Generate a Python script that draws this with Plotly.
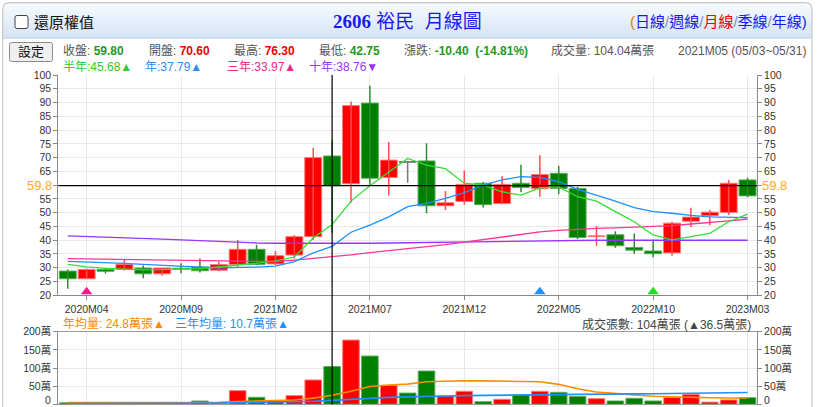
import plotly.graph_objects as go

W, H = 817, 407

# ---------------- data ----------------
months = ["2020M03", "2020M04", "2020M05", "2020M06", "2020M07", "2020M08", "2020M09",
          "2020M10", "2020M11", "2020M12", "2021M01", "2021M02", "2021M03", "2021M04",
          "2021M05", "2021M06", "2021M07", "2021M08", "2021M09", "2021M10", "2021M11",
          "2021M12", "2022M01", "2022M02", "2022M03", "2022M04", "2022M05", "2022M06",
          "2022M07", "2022M08", "2022M09", "2022M10", "2022M11", "2022M12", "2023M01",
          "2023M02", "2023M03"]
opens = [28.8, 26.0, 29.4, 29.4, 29.9, 27.8, 29.8, 30.3, 29.1, 31.2, 36.7, 31.4, 34.6, 41.3,
         70.6, 60.5, 89.8, 62.8, 68.3, 68.8, 52.5, 54.1, 60.7, 53.3, 60.7, 58.7, 64.3, 58.8,
         41.3, 42.0, 37.4, 36.1, 35.4, 46.9, 48.9, 50.1, 61.9]
highs = [29.4, 29.6, 29.9, 33.0, 30.8, 29.9, 31.6, 33.4, 32.2, 40.1, 38.4, 36.1, 41.8, 73.6,
         76.3, 90.4, 96.1, 75.7, 68.6, 75.2, 57.9, 65.3, 61.1, 63.3, 67.4, 70.9, 67.0, 59.4,
         45.2, 43.3, 42.4, 40.3, 46.7, 51.8, 51.0, 61.9, 62.7]
lows = [22.4, 25.9, 27.9, 29.0, 26.2, 27.1, 28.0, 28.3, 28.7, 30.4, 31.0, 31.0, 33.4, 40.1,
        42.75, 53.6, 60.0, 56.2, 60.9, 49.8, 51.0, 53.0, 51.9, 53.2, 57.4, 55.8, 56.7, 40.4,
        38.0, 37.3, 35.1, 33.8, 34.4, 44.7, 45.4, 49.2, 55.6]
closes = [26.0, 29.4, 28.7, 31.2, 27.8, 29.9, 29.5, 28.9, 31.2, 36.7, 31.2, 34.4, 41.3, 70.0,
          59.8, 88.9, 62.5, 69.1, 68.3, 52.5, 53.6, 60.3, 52.9, 60.3, 59.1, 63.9, 58.8, 41.0,
          41.6, 38.0, 36.4, 35.1, 46.2, 48.4, 50.2, 60.7, 56.1]
# volume in 萬張
volume = [4.0, 3.0, 2.5, 5.0, 2.5, 2.5, 3.0, 9.0, 3.0, 37.6, 19.3, 10.0, 23.9, 67.0,
          104.04, 177.0, 133.0, 52.0, 31.0, 91.7, 23.0, 35.8, 7.3, 13.8, 25.7, 35.8, 33.0,
          21.5, 15.6, 9.2, 16.5, 9.2, 18.5, 27.0, 6.0, 12.0, 18.3]

ma_half = [31.2, 30.3, 29.8, 29.5, 29.2, 29.3, 29.6, 29.6, 30.4, 31.0, 31.6, 32.5, 33.9, 40.8,
           45.68, 54.2, 59.8, 64.9, 69.7, 67.3, 66.0, 60.7, 60.0, 57.6, 56.4, 59.0, 59.4, 55.8,
           54.2, 50.4, 46.7, 41.9, 40.1, 41.3, 42.5, 46.7, 49.5]
ma_1y = [32.3, 32.1, 31.9, 31.6, 31.2, 30.8, 30.4, 30.2, 30.0, 30.0, 30.2, 30.6, 32.2, 35.4,
         37.79, 42.9, 45.5, 48.5, 52.2, 53.4, 55.2, 57.3, 60.0, 61.9, 63.1, 62.8, 61.3, 58.5,
         56.4, 54.2, 51.8, 50.4, 49.8, 49.0, 48.5, 48.3, 48.2]
ma_3y = [33.3, 33.2, 33.1, 33.0, 32.9, 32.8, 32.6, 32.5, 32.3, 32.2, 32.1, 32.2, 32.8, 33.4,
         33.97, 34.7, 35.5, 36.2, 36.9, 37.6, 38.4, 39.3, 40.2, 41.1, 42.0, 43.0, 43.6, 44.0,
         44.3, 44.5, 44.7, 44.9, 45.3, 45.9, 46.4, 47.0, 47.7]
ma_10y = [41.6, 41.4, 41.2, 41.0, 40.7, 40.4, 40.1, 39.8, 39.5, 39.2, 39.0, 38.9, 38.85, 38.8,
          38.76, 38.8, 38.9, 39.0, 39.1, 39.2, 39.3, 39.5, 39.6, 39.7, 39.8, 39.9, 40.0, 40.0,
          40.0, 40.0, 40.0, 40.0, 40.0, 40.0, 40.0, 40.0, 40.0]
vol_ma_1y = [4.5, 4.5, 4.5, 4.5, 4.5, 4.6, 4.8, 5.3, 5.6, 7.5, 8.8, 10.0, 12.0, 17.0,
             24.8, 36.0, 49.0, 53.0, 55.5, 62.0, 64.0, 65.0, 64.5, 64.0, 64.5, 62.0, 55.0,
             43.0, 34.0, 29.0, 26.0, 22.0, 20.0, 18.5, 18.0, 17.5, 17.3]
vol_ma_3y = [2.0, 2.0, 2.2, 2.4, 2.6, 2.8, 3.0, 3.3, 3.5, 4.5, 5.0, 5.5, 6.5, 8.5,
             10.7, 14.0, 17.5, 19.0, 20.5, 22.5, 23.0, 24.0, 24.3, 24.6, 25.0, 26.0, 26.6,
             27.0, 27.3, 28.0, 28.6, 29.2, 30.0, 31.0, 31.5, 32.0, 32.5]

tick_months = ["2020M04", "2020M09", "2021M02", "2021M07", "2021M12", "2022M05", "2022M10", "2023M03"]
price_ticks = list(range(20, 101, 5))
vol_ticks = [0, 50, 100, 150, 200]
vol_ticktext = ["0", "50萬", "100萬", "150萬", "200萬"]
signal_months = ["2020M04", "2022M04", "2022M10"]
signal_colors = ["#ff1493", "#1e90ff", "#22dd22"]
cross_month = "2021M05"
cross_price = 59.8

# ---------------- styles ----------------
FONT = "Liberation Sans, Arial, Noto Sans CJK TC, sans-serif"
RED, GREEN, GRAY = "#ff0000", "#008000", "#777777"
C_HALF, C_1Y, C_3Y, C_10Y = "#33dd33", "#1e90ff", "#ff3399", "#9933ff"
C_VOL1, C_VOL3 = "#ff8c00", "#1e90ff"

body_colors = [RED if c > o else (GREEN if c < o else GRAY) for o, c in zip(opens, closes)]
body_lines = {RED: "#ff7a7a", GREEN: "#5fae5f", GRAY: "#777777"}
wick_colors = {RED: "#ff4d4d", GREEN: "#2e8b2e", GRAY: "#777777"}
vol_colors = [RED if c > o else GREEN for o, c in zip(opens, closes)]

fig = go.Figure()

# wicks
for col in (RED, GREEN, GRAY):
    xs, ys = [], []
    for m, hi, lo, bc in zip(months, highs, lows, body_colors):
        if bc == col:
            xs += [m, m, None]
            ys += [lo, hi, None]
    fig.add_trace(go.Scatter(x=xs, y=ys, mode="lines", line=dict(color=wick_colors[col], width=1.5),
                             xaxis="x", yaxis="y", hoverinfo="skip"))

# bodies
fig.add_trace(go.Bar(
    x=months,
    y=[max(abs(c - o), 0.25) for o, c in zip(opens, closes)],
    base=[min(o, c) for o, c in zip(opens, closes)],
    width=0.9,
    marker=dict(color=body_colors, line=dict(color=[body_lines[c] for c in body_colors], width=1)),
    xaxis="x", yaxis="y", hoverinfo="skip"))

# moving averages
for vals, col in ((ma_10y, C_10Y), (ma_3y, C_3Y), (ma_1y, C_1Y), (ma_half, C_HALF)):
    fig.add_trace(go.Scatter(x=months, y=vals, mode="lines", line=dict(color=col, width=1.3),
                             xaxis="x", yaxis="y", hoverinfo="skip"))

# signal markers
fig.add_trace(go.Scatter(x=signal_months, y=[21.3] * len(signal_months), mode="markers",
                         marker=dict(symbol="triangle-up", size=10, color=signal_colors),
                         xaxis="x", yaxis="y", hoverinfo="skip"))

# volume
fig.add_trace(go.Bar(
    x=months, y=volume, width=0.88,
    marker=dict(color=vol_colors, line=dict(color=[body_lines[c] for c in vol_colors], width=1)),
    xaxis="x2", yaxis="y2", hoverinfo="skip"))
for vals, col in ((vol_ma_1y, C_VOL1), (vol_ma_3y, C_VOL3)):
    fig.add_trace(go.Scatter(x=months, y=vals, mode="lines", line=dict(color=col, width=1.6),
                             xaxis="x2", yaxis="y2", hoverinfo="skip"))

# dummy traces for right-side axes
fig.add_trace(go.Scatter(x=[months[0]], y=[None], xaxis="x", yaxis="y3", hoverinfo="skip"))
fig.add_trace(go.Scatter(x=[months[0]], y=[None], xaxis="x2", yaxis="y4", hoverinfo="skip"))

XD = [58.3 / W, 757 / W]
PY = [1 - 295.3 / H, 1 - 75 / H]
VY = [1 - 404.3 / H, 1 - 331.7 / H]
tickfont = dict(size=10.5, color="#333", family=FONT)
common_y = dict(ticks="outside", ticklen=4, tickcolor="#888", showline=True, linecolor="#888",
                tickfont=tickfont, zeroline=False, fixedrange=True, automargin=False,
                ticklabeloverflow="allow")
# the crosshair label covers the 60 tick label
price_ticktext = ["" if abs(v - cross_price) < 1 else str(v) for v in price_ticks]
# the 0 label sits on the bottom edge; it is drawn separately just inside the page
vol_axis_text = ["" if v == 0 else t for v, t in zip(vol_ticks, vol_ticktext)]

fig.update_layout(
    template="plotly",
    width=W, height=H, margin=dict(l=0, r=0, t=0, b=0, pad=0, autoexpand=False), autosize=False,
    paper_bgcolor="white", plot_bgcolor="white", showlegend=False, barmode="overlay",
    font=dict(family=FONT),
    xaxis=dict(domain=XD, anchor="y", type="category", categoryorder="array", categoryarray=months,
               range=[-0.5, len(months) - 0.5], tickmode="array", tickvals=tick_months,
               ticks="outside", ticklen=4, tickcolor="#888", showgrid=True, gridcolor="#e8e8e8",
               showline=True, linecolor="#888", tickfont=tickfont, fixedrange=True,
               automargin=False),
    xaxis2=dict(domain=XD, anchor="y2", type="category", matches="x", tickmode="array",
                tickvals=tick_months, showticklabels=False, ticks="", showgrid=True,
                gridcolor="#e8e8e8", showline=True, mirror=True, linecolor="#999", fixedrange=True,
                automargin=False),
    yaxis=dict(domain=PY, anchor="x", range=[20, 100], tickmode="array", tickvals=price_ticks,
               ticktext=price_ticktext, showgrid=True, gridcolor="#e8e8e8", side="left", **common_y),
    yaxis3=dict(anchor="x", overlaying="y", side="right", range=[20, 100], tickmode="array",
                tickvals=price_ticks, ticktext=price_ticktext, showgrid=False, **common_y),
    yaxis2=dict(domain=VY, anchor="x2", range=[0, 200], tickmode="array", tickvals=vol_ticks,
                ticktext=vol_axis_text, showgrid=True, gridcolor="#e8e8e8", side="left", **common_y),
    yaxis4=dict(anchor="x2", overlaying="y2", side="right", range=[0, 200], tickmode="array",
                tickvals=vol_ticks, ticktext=vol_axis_text, showgrid=False, **common_y),
)


def px(x):
    return x / W


def py(y):
    return 1 - y / H


shapes = []
# header gradient
top_c, bot_c = (246, 250, 254), (214, 228, 245)
n = 12
for i in range(n):
    t = i / (n - 1)
    c = tuple(round(a + (b - a) * t) for a, b in zip(top_c, bot_c))
    y0 = 3 + i * (35 / n)
    shapes.append(dict(type="rect", xref="paper", yref="paper", x0=px(3), x1=px(812),
                       y0=py(y0), y1=py(y0 + 35 / n + 0.6), line=dict(width=0),
                       fillcolor="rgb(%d,%d,%d)" % c, layer="below"))
shapes.append(dict(type="line", xref="paper", yref="paper", x0=px(3), x1=px(812), y0=py(38),
                   y1=py(38), line=dict(color="#c4d3e6", width=1)))


def rounded(x0, y0, x1, y1, r):
    return ("M %f,%f L %f,%f Q %f,%f %f,%f L %f,%f Q %f,%f %f,%f L %f,%f Q %f,%f %f,%f "
            "L %f,%f Q %f,%f %f,%f Z" % (
                px(x0 + r), py(y0), px(x1 - r), py(y0), px(x1), py(y0), px(x1), py(y0 + r),
                px(x1), py(y1 - r), px(x1), py(y1), px(x1 - r), py(y1),
                px(x0 + r), py(y1), px(x0), py(y1), px(x0), py(y1 - r),
                px(x0), py(y0 + r), px(x0), py(y0), px(x0 + r), py(y0)))


# outer frame
shapes.append(dict(type="path", xref="paper", yref="paper", path=rounded(2.7, 2.7, 812, 430, 7),
                   line=dict(color="#c8c8c8", width=1.2)))
# checkbox
shapes.append(dict(type="path", xref="paper", yref="paper", path=rounded(15, 15.5, 28, 28.5, 2),
                   line=dict(color="#444", width=1), fillcolor="white"))
# setting button
shapes.append(dict(type="path", xref="paper", yref="paper", path=rounded(9.5, 42.5, 52.5, 61.5, 2),
                   line=dict(color="#8a8a8a", width=1), fillcolor="#efefef"))
# crosshair
shapes.append(dict(type="line", xref="x", yref="paper", x0=cross_month, x1=cross_month,
                   y0=VY[0], y1=PY[1], line=dict(color="black", width=1.2)))
shapes.append(dict(type="line", xref="paper", yref="y", x0=XD[0], x1=XD[1],
                   y0=cross_price, y1=cross_price, line=dict(color="black", width=1.2)))
fig.update_layout(shapes=shapes)


def txt(x, y, text, size=12, color="#333", anchor="left", yref="paper", bg=None, family=FONT,
        vanchor="middle"):
    fig.add_annotation(x=px(x), y=py(y) if yref == "paper" else y, xref="paper", yref=yref,
                       text=text, showarrow=False, xanchor=anchor, yanchor=vanchor,
                       font=dict(size=size, color=color, family=family),
                       bgcolor=bg, borderpad=0)


NB = "\u00a0"
txt(33, 22, "還原權值", size=15, color="#111")
txt(407, 21, '<span style="font-family:Liberation Serif, Times New Roman, serif"><b>2606</b></span>'
    + NB + "裕民" + NB + NB + "月線圖", size=19, color="#1a1aee", anchor="center")
sl = '<span style="color:#7f8fb0">/</span>'
txt(808, 21, '<span style="color:#cc8800">(</span>日線' + sl + '週線' + sl
    + '<span style="color:#ee0000">月線</span>' + sl + '季線' + sl + '年線)',
    size=15, color="#1a1aee", anchor="right")
txt(31, 52, "設定", size=13, color="#111", anchor="center")

LBL = "#555"
txt(62, 51, '收盤: <b><span style="color:#1f9a1f">59.80</span></b>', color=LBL)
txt(148, 51, '開盤: <b><span style="color:#ee0000">70.60</span></b>', color=LBL)
txt(233, 51, '最高: <b><span style="color:#ee0000">76.30</span></b>', color=LBL)
txt(318, 51, '最低: <b><span style="color:#1f9a1f">42.75</span></b>', color=LBL)
txt(403, 51, '漲跌: <b><span style="color:#1f9a1f">-10.40' + NB + NB + '(-14.81%)</span></b>', color=LBL)
txt(550, 51, "成交量: 104.04萬張", color=LBL)
txt(677, 51, "2021M05 (05/03~05/31)", color=LBL)

txt(62, 67, "半年:45.68▲", color="#2ecc2e")
txt(144, 67, "年:37.79▲", color="#2b8cf0")
txt(226, 67, "三年:33.97▲", color="#f0288c")
txt(308, 67, "十年:38.76▼", color="#9933ff")

txt(62, 324, "年均量: 24.8萬張▲", color="#ff8800")
txt(174, 324, "三年均量: 10.7萬張▲", color="#1e90ff")
txt(752, 324, "成交張數: 104萬張 (▲36.5萬張)", color="#444", anchor="right")

# volume-axis zero labels, kept just inside the bottom edge
txt(52, 406.5, vol_ticktext[0], size=10.5, color="#333", anchor="right", vanchor="bottom")
txt(763, 406.5, vol_ticktext[0], size=10.5, color="#333", anchor="left", vanchor="bottom")

# crosshair price labels
txt(53, cross_price, "59.8", size=13, color="#ffa726", anchor="right", yref="y",
    bg="rgba(255,255,255,0.85)")
txt(761, cross_price, "59.8", size=13, color="#ffa726", anchor="left", yref="y",
    bg="rgba(255,255,255,0.85)")

fig.write_html("out.html", config={"displayModeBar": False},
               post_script="document.body.style.margin='0';document.body.style.overflow='hidden';")
